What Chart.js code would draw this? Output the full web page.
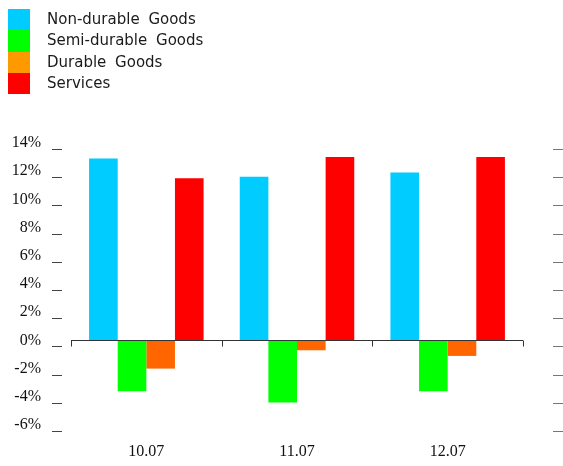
<!DOCTYPE html>
<html>
<head>
<meta charset="utf-8">
<script src="https://cdn.jsdelivr.net/npm/chart.js@4.4.0/dist/chart.umd.min.js"></script>
<style>
  body { margin: 0; background: #fff; }
  #wrap { position: relative; width: 563px; height: 466px; }
  #legend { position: absolute; left: 8px; top: 9px; font: 15px "DejaVu Sans", sans-serif; color: #1a1a1a; word-spacing: 4px; }
  #legend div { height: 21.3px; line-height: 21.3px; white-space: nowrap; }
  #legend span { display: inline-block; width: 22px; height: 21.3px; vertical-align: top; margin-right: 17px; }
</style>
</head>
<body>
<div id="wrap">
  <canvas id="chart" width="563" height="466"></canvas>
  <div id="legend"></div>
</div>
<script>
// chart data
const categories = ["10.07", "11.07", "12.07"];
const seriesNames = ["Non-durable Goods", "Semi-durable Goods", "Durable Goods", "Services"];
const nonDurable = [12.9, 11.6, 11.9];
const semiDurable = [-3.6, -4.4, -3.6];
const durable = [-2.0, -0.7, -1.1];
const services = [11.5, 13.0, 13.0];
const barColors = ["#00ccff", "#00ff00", "#ff6600", "#ff0000"];
const legendColors = ["#00ccff", "#00ff00", "#ff9900", "#ff0000"];

const values = [nonDurable, semiDurable, durable, services];

// legend as plain html
document.getElementById("legend").innerHTML = seriesNames.map((name, i) =>
    `<div><span style="background:${legendColors[i]}"></span>${name}</div>`
).join("");

// zero axis line, category ticks and the dash marks on both sides
const axisDecor = {
    id: "axisDecor",
    afterDatasetsDraw(chart) {
        const { ctx, chartArea, scales } = chart;
        const y = scales.y;
        const zero = Math.round(y.getPixelForValue(0)) + 0.5;
        ctx.save();
        ctx.strokeStyle = "#333";
        ctx.lineWidth = 1;
        ctx.beginPath();
        ctx.moveTo(chartArea.left, zero);
        ctx.lineTo(chartArea.right, zero);
        // dividers between categories
        for (let i = 0; i <= categories.length; i++) {
            const px = Math.round(chartArea.left + i * (chartArea.right - chartArea.left) / categories.length) + 0.5;
            ctx.moveTo(px, zero);
            ctx.lineTo(px, zero + 6);
        }
        ctx.stroke();

        y.ticks.forEach(t => {
            const py = Math.round(y.getPixelForValue(t.value)) + 6.5;
            ctx.strokeStyle = "#444";
            ctx.beginPath();
            ctx.moveTo(52, py);
            ctx.lineTo(62, py);
            ctx.stroke();
            ctx.strokeStyle = "#777";
            ctx.beginPath();
            ctx.moveTo(553, py);
            ctx.lineTo(563, py);
            ctx.stroke();
        });
        ctx.restore();
    }
};

new Chart(document.getElementById("chart"), {
    type: "bar",
    data: {
        labels: categories,
        datasets: seriesNames.map((name, i) => ({
            label: name,
            data: values[i],
            backgroundColor: barColors[i],
            borderWidth: 0,
        })),
    },
    options: {
        responsive: false,
        animation: false,
        layout: { autoPadding: false, padding: { top: 143, right: 40, left: 0, bottom: 0 } },
        datasets: { bar: { categoryPercentage: 0.76, barPercentage: 1 } },
        plugins: { legend: { display: false }, tooltip: { enabled: false } },
        scales: {
            x: {
                grid: { display: false, drawTicks: false },
                border: { display: false },
                ticks: { padding: 17, color: "#111", font: { family: "'Liberation Serif', serif", size: 16 } },
                afterFit: s => { s.height = 41; },
            },
            y: {
                min: -6,
                max: 14,
                grid: { display: false, drawTicks: false },
                border: { display: false },
                ticks: {
                    stepSize: 2,
                    padding: 30,
                    color: "#111",
                    font: { family: "'Liberation Serif', serif", size: 16 },
                    callback: v => v + "%",
                },
                afterFit: s => { s.width = 71; },
            },
        },
    },
    plugins: [axisDecor],
});
</script>
</body>
</html>
